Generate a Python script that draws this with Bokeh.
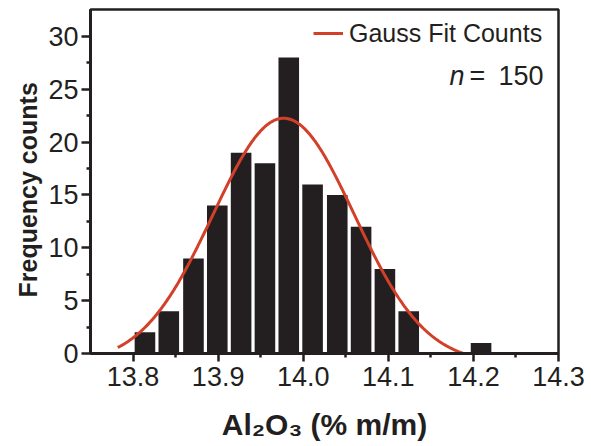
import numpy as np
from bokeh.plotting import figure
from bokeh.models import Range1d, FixedTicker, Label, Legend, LegendItem, Title
from bokeh.embed import file_html
from bokeh.resources import INLINE

# ---- data ----
bin_centers = [13.814, 13.842, 13.871, 13.899, 13.927, 13.955, 13.983,
               14.011, 14.040, 14.068, 14.096, 14.124, 14.209]
counts = [2, 4, 9, 14, 19, 18, 28, 16, 15, 12, 8, 4, 1]

x_ticks = [13.8, 13.9, 14.0, 14.1, 14.2, 14.3]
x_tick_labels = ["13.8", "13.9", "14.0", "14.1", "14.2", "14.3"]
x_minor_ticks = [13.85, 13.95, 14.05, 14.15, 14.25]
y_ticks = [0, 5, 10, 15, 20, 25, 30]
y_minor_ticks = [2.5, 7.5, 12.5, 17.5, 22.5, 27.5]

# Gauss fit parameters
fit_center = 13.977
fit_sigma = 0.083
fit_amplitude = 23.16
fit_offset = -0.9
fit_x_start = 13.782
fit_x_end = 14.2

x_title = "Al\u2082O\u2083 (% m/m)"
y_title = "Frequency counts"
legend_label = "Gauss Fit Counts"
n_value = "150"

INK = "#231f20"
RED = "#d2402a"

p = figure(width=591, height=446,
           x_range=Range1d(13.75, 14.3), y_range=Range1d(0, 32.55),
           output_backend="svg", toolbar_location=None,
           min_border_left=90, min_border_right=33,
           min_border_top=9, min_border_bottom=93)
p.background_fill_color = "white"
p.border_fill_color = "white"
p.grid.visible = False
p.outline_line_color = INK
p.outline_line_width = 2.5

# bars
p.vbar(x=bin_centers, top=counts, bottom=0, width=0.0242,
       fill_color=INK, line_color=None)

# Gauss fit curve
fx = np.linspace(fit_x_start, fit_x_end, 300)
fy = fit_offset + fit_amplitude * np.exp(-0.5 * ((fx - fit_center) / fit_sigma) ** 2)
fy = np.clip(fy, 0, None)
curve = p.line(fx, fy, line_color=RED, line_width=3)

# axes
p.xaxis.ticker = FixedTicker(ticks=x_ticks, minor_ticks=x_minor_ticks)
p.xaxis.major_label_overrides = {t: l for t, l in zip(x_ticks, x_tick_labels)}
p.yaxis.ticker = FixedTicker(ticks=y_ticks, minor_ticks=y_minor_ticks)

for ax in (p.xaxis[0], p.yaxis[0]):
    ax.axis_line_width = 3
    ax.axis_line_color = INK
    ax.major_tick_line_color = INK
    ax.minor_tick_line_color = INK
    ax.major_tick_line_width = 2.5
    ax.minor_tick_line_width = 2.5
    ax.major_tick_in = 0
    ax.minor_tick_in = 0
    ax.minor_tick_out = 4
    ax.major_label_text_font = "Liberation Sans"
    ax.major_label_text_font_size = "27px"
    ax.major_label_text_color = INK

p.xaxis.major_tick_out = 8
p.xaxis.major_label_standoff = 5
p.yaxis.major_tick_out = 9
p.yaxis.major_label_standoff = 3

# x-axis title
p.xaxis.axis_label = x_title
p.xaxis.axis_label_standoff = 19
p.xaxis.axis_label_text_font = "Liberation Sans"
p.xaxis.axis_label_text_font_style = "bold"
p.xaxis.axis_label_text_font_size = "30px"
p.xaxis.axis_label_text_color = INK

# y-axis title (side panel title, shifted slightly below centre as in the reference)
p.add_layout(Title(text=y_title, align="left", offset=56, standoff=8,
                   text_font="Liberation Sans", text_font_style="bold",
                   text_font_size="25px", text_color=INK), "left")

# legend
legend = Legend(items=[LegendItem(label=legend_label, renderers=[curve])],
                location=(223, 305.5), padding=0, margin=0, spacing=0,
                border_line_alpha=0, background_fill_alpha=0,
                glyph_width=30, glyph_height=20, label_standoff=6,
                label_text_font="Liberation Sans", label_text_font_size="25px",
                label_text_color=INK)
p.add_layout(legend)

# n = 150
p.add_layout(Label(x=374, y=278, x_units="screen", y_units="screen",
                   text="n", text_align="right", text_baseline="alphabetic",
                   text_font="Liberation Sans", text_font_style="italic",
                   text_font_size="27px", text_color=INK))
p.add_layout(Label(x=379, y=278, x_units="screen", y_units="screen",
                   text="=", text_align="left", text_baseline="alphabetic",
                   text_font="Liberation Sans",
                   text_font_size="27px", text_color=INK))
p.add_layout(Label(x=453, y=278, x_units="screen", y_units="screen",
                   text=n_value, text_align="right", text_baseline="alphabetic",
                   text_font="Liberation Sans",
                   text_font_size="27px", text_color=INK))

open("out.html", "w").write(file_html(p, INLINE))
